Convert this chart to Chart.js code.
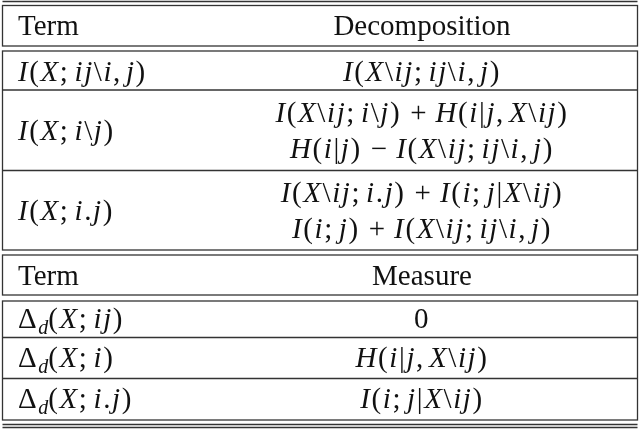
<!DOCTYPE html>
<html><head><meta charset="utf-8">
<script src="https://cdn.jsdelivr.net/npm/chart.js@4"></script>
<style>html,body{margin:0;padding:0;background:#fff}#c{display:block}</style>
</head><body>
<div style="width:640px;height:429px"><canvas id="c" width="640" height="429"></canvas></div>
<script>
const headers1 = ["Term", "Decomposition"];
const terms1 = ["I(X;ij\\i,j)", "I(X;i\\j)", "I(X;i.j)"];
const decomps1 = [["I(X\\ij;ij\\i,j)"], ["I(X\\ij;i\\j)+H(i|j,X\\ij)", "H(i|j)−I(X\\ij;ij\\i,j)"], ["I(X\\ij;i.j)+I(i;j|X\\ij)", "I(i;j)+I(X\\ij;ij\\i,j)"]];
const headers2 = ["Term", "Measure"];
const terms2 = ["Δ_d(X;ij)", "Δ_d(X;i)", "Δ_d(X;i.j)"];
const measures2 = [["0"], ["H(i|j,X\\ij)"], ["I(i;j|X\\ij)"]];

const FS = 29, FAM = '"Liberation Serif", "DejaVu Serif", serif';
function tokens(s){
  const out=[]; for(let k=0;k<s.length;k++){const ch=s[k];
    if(ch==='_'){out.push({t:s[k+1],sub:true,it:true});k++;continue;}
    if(ch==='+'||ch==='−'){out.push({t:ch,it:false,pad:9});continue;}
    out.push({t:ch,it:/[A-Za-z]/.test(ch),pad:(ch===';'?5:ch===','?4:0)+1.6});
  } return out;}
function fontFor(tk){return (tk.it?'italic ':'')+(tk.sub?Math.round(FS*0.7):FS)+'px '+FAM;}
function step(ctx,tk){ctx.font=fontFor(tk);return ctx.measureText(tk.t).width+(tk.pad||0);}
function measure(ctx,s){ let w=0; const ts=tokens(s); for(const tk of ts){w+=step(ctx,tk); if(tk.t==='+'||tk.t==='−') w+=9;} return w;}
function draw(ctx,s,x,y){
  for(const tk of tokens(s)){ if(tk.t==='+'||tk.t==='−') x+=9; ctx.font=fontFor(tk);ctx.fillText(tk.t,x,y+(tk.sub?6:0));x+=step(ctx,tk);} }

const tablePlugin={id:'table',afterDraw(chart){
  const ctx=chart.ctx; ctx.save(); ctx.fillStyle='#111'; ctx.strokeStyle='#333'; ctx.lineWidth=1.3; ctx.textBaseline='alphabetic';
  const L=2.5,R=637.5,CX=422;
  const hl=(y)=>{ctx.beginPath();ctx.moveTo(L,y);ctx.lineTo(R,y);ctx.stroke();};
  const box=(y0,y1)=>{ctx.strokeRect(L,y0,R-L,y1-y0);};
  hl(1.5);
  box(5.5,46); box(51,250); hl(90); hl(170.5);
  box(255,295); box(301,420); hl(337.5); hl(378.5);
  hl(424.5); hl(427.5);
  ctx.font=FS+'px '+FAM;
  ctx.fillText(headers1[0],18,35);
  ctx.fillText(headers1[1],CX-ctx.measureText(headers1[1]).width/2,35);
  ctx.fillText(headers2[0],18,285);
  ctx.fillText(headers2[1],CX-ctx.measureText(headers2[1]).width/2,285);
  const rows1=[[51,90],[90,170.5],[170.5,250]];
  rows1.forEach((r,i)=>{const mid=(r[0]+r[1])/2; draw(ctx,terms1[i],18,mid+10);
    const lines=decomps1[i]; const n=lines.length;
    lines.forEach((ln,j)=>{const y=mid+10+(j-(n-1)/2)*36; draw(ctx,ln,CX-measure(ctx,ln)/2,y);});});
  const rows2=[[301,337.5],[337.5,378.5],[378.5,420]];
  rows2.forEach((r,i)=>{const mid=(r[0]+r[1])/2; draw(ctx,terms2[i],18,mid+9);
    const ln=measures2[i][0]; draw(ctx,ln,CX-measure(ctx,ln)/2,mid+9);});
  ctx.restore();}};

new Chart(document.getElementById('c'),{type:'scatter',data:{datasets:[{data:[]}]},
  options:{responsive:false,animation:false,events:[],plugins:{legend:{display:false},tooltip:{enabled:false}},
  scales:{x:{display:false},y:{display:false}}},plugins:[tablePlugin]});
</script></body></html>
